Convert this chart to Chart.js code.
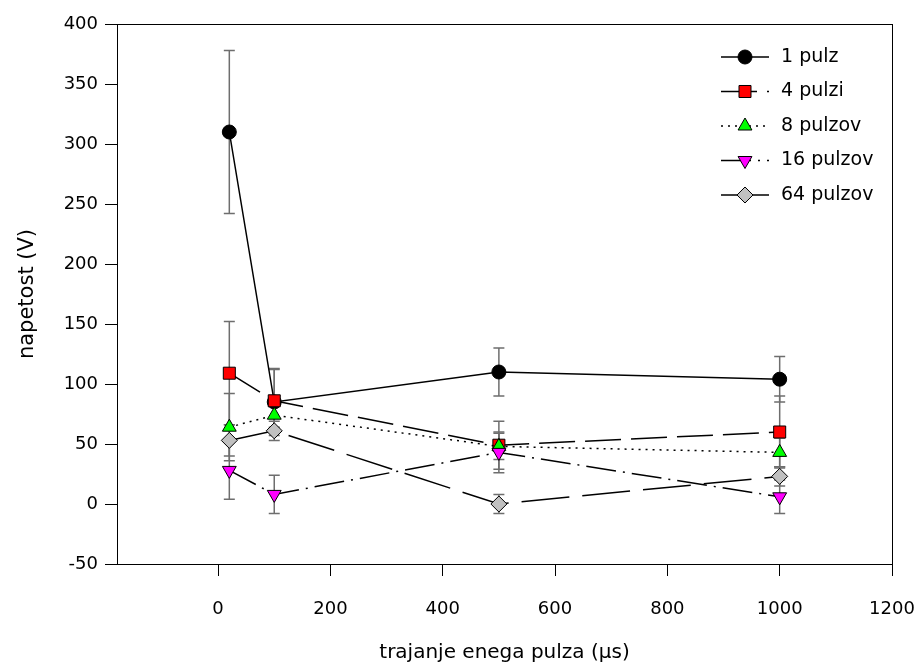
<!DOCTYPE html>
<html lang="sl">
<head>
    <meta charset="UTF-8" />
    <title>Napetost glede na trajanje pulza</title>
    <script src="https://cdn.jsdelivr.net/npm/chart.js"></script>
    <style>
        body {
            margin: 0;
            background: #fff;
        }

        canvas {
            display: block;
        }
    </style>
</head>

<body>
    <canvas id="chart" width="918" height="665"></canvas>

    <script>
        // trajanje enega pulza (us)
        const durations = [20, 100, 500, 1000];

        const seriesNames = ["1 pulz", "4 pulzi", "8 pulzov", "16 pulzov", "64 pulzov"];

        // napetost (V) in standardni odklon
        const pulz1 = [310, 85, 110, 104];
        const pulz1Err = [68, 28, 20, 19];
        const pulzi4 = [109, 86, 49, 60];
        const pulzi4Err = [43, 26, 20, 30];
        const pulzov8 = [64, 74, 48, 43];
        const pulzov8Err = [28, 10, 11, 12];
        const pulzov16 = [28, 8, 43, 6];
        const pulzov16Err = [24, 16, 17, 14];
        const pulzov64 = [53, 61, 0, 23];
        const pulzov64Err = [13, 8, 8, 8];

        const xTicks = [0, 200, 400, 600, 800, 1000, 1200];

        const values = [pulz1, pulzi4, pulzov8, pulzov16, pulzov64];
        const errors = [pulz1Err, pulzi4Err, pulzov8Err, pulzov16Err, pulzov64Err];

        const styles = [
            { fill: "#000000", point: "circle", radius: 7, rotation: 0, dash: [] },
            { fill: "#ff0000", point: "rect", radius: 8.5, rotation: 0, dash: [36, 10] },
            { fill: "#00ff00", point: "triangle", radius: 8, rotation: 0, dash: [2, 5] },
            { fill: "#ff00ff", point: "triangle", radius: 8, rotation: 180, dash: [30, 7, 2, 7] },
            { fill: "#c0c0c0", point: "rectRot", radius: 8, rotation: 0, dash: [48, 13] }
        ];

        const FONT = "'DejaVu Sans', sans-serif";

        const datasets = values.map((serie, i) => ({
            label: seriesNames[i],
            data: serie.map((v, j) => ({ x: durations[j], y: v })),
            showLine: true,
            tension: 0,
            borderColor: "#000",
            borderWidth: 1.5,
            borderDash: styles[i].dash,
            pointStyle: styles[i].point,
            pointRadius: styles[i].radius,
            pointRotation: styles[i].rotation,
            pointBackgroundColor: styles[i].fill,
            pointBorderColor: "#000",
            pointBorderWidth: 1,
            order: values.length - i
        }));

        // error bars under the markers, plus the frame round the plot
        const errorBars = {
            id: "errorBars",
            beforeDatasetsDraw(chart) {
                const { ctx, chartArea, scales } = chart;
                ctx.save();
                ctx.strokeStyle = "#000";
                ctx.lineWidth = 1;
                ctx.strokeRect(chartArea.left + 0.5, chartArea.top + 0.5,
                    chartArea.right - chartArea.left, chartArea.bottom - chartArea.top);

                ctx.strokeStyle = "#6e6e6e";
                ctx.lineWidth = 1.5;
                values.forEach((serie, i) => {
                    serie.forEach((v, j) => {
                        const x = scales.x.getPixelForValue(durations[j]);
                        const yTop = scales.y.getPixelForValue(v + errors[i][j]);
                        const yBot = scales.y.getPixelForValue(v - errors[i][j]);
                        ctx.beginPath();
                        ctx.moveTo(x, yTop);
                        ctx.lineTo(x, yBot);
                        ctx.moveTo(x - 5.5, yTop);
                        ctx.lineTo(x + 5.5, yTop);
                        ctx.moveTo(x - 5.5, yBot);
                        ctx.lineTo(x + 5.5, yBot);
                        ctx.stroke();
                    });
                });
                ctx.restore();
            }
        };

        // legend box in the upper right corner
        const innerLegend = {
            id: "innerLegend",
            afterDatasetsDraw(chart) {
                const { ctx, chartArea } = chart;
                const x0 = chartArea.right - 171;
                const x1 = chartArea.right - 123;
                const xm = chartArea.right - 147;
                const xt = chartArea.right - 111;
                ctx.save();
                seriesNames.forEach((name, i) => {
                    const y = chartArea.top + 33 + i * 34.5;
                    ctx.strokeStyle = "#000";
                    ctx.lineWidth = 1.5;
                    ctx.setLineDash(styles[i].dash);
                    ctx.beginPath();
                    ctx.moveTo(x0, y);
                    ctx.lineTo(x1, y);
                    ctx.stroke();
                    ctx.setLineDash([]);

                    ctx.fillStyle = styles[i].fill;
                    ctx.strokeStyle = "#000";
                    ctx.lineWidth = 1;
                    Chart.helpers.drawPoint(ctx, {
                        pointStyle: styles[i].point,
                        radius: styles[i].radius,
                        rotation: styles[i].rotation,
                        borderWidth: 1
                    }, xm, y);

                    ctx.fillStyle = "#000";
                    ctx.font = "19px " + FONT;
                    ctx.textBaseline = "middle";
                    ctx.textAlign = "left";
                    ctx.fillText(name, xt, y);
                });
                ctx.restore();
            }
        };

        new Chart(document.getElementById("chart"), {
            type: "scatter",
            data: { datasets: datasets },
            options: {
                responsive: false,
                animation: false,
                devicePixelRatio: 1,
                events: [],
                layout: {
                    padding: { left: 0, top: 24, right: 0, bottom: 0 }
                },
                plugins: {
                    legend: { display: false },
                    tooltip: { enabled: false }
                },
                scales: {
                    x: {
                        type: "linear",
                        min: -180,
                        max: 1200,
                        afterBuildTicks: scale => {
                            scale.ticks = xTicks.map(v => ({ value: v }));
                        },
                        afterFit: scale => {
                            scale.height = 101;
                            scale.paddingLeft = 0;
                            scale.paddingRight = 26;
                        },
                        grid: {
                            drawOnChartArea: false,
                            drawTicks: true,
                            tickLength: 12,
                            color: "#000"
                        },
                        border: { display: true, color: "#000", width: 1 },
                        ticks: {
                            color: "#000",
                            padding: 23,
                            maxRotation: 0,
                            callback: v => String(v),
                            font: { family: FONT, size: 18 }
                        },
                        title: {
                            display: true,
                            text: "trajanje enega pulza (μs)",
                            color: "#000",
                            padding: { top: 0, bottom: 0 },
                            font: { family: FONT, size: 20 }
                        }
                    },
                    y: {
                        min: -50,
                        max: 400,
                        afterFit: scale => {
                            scale.width = 117;
                        },
                        grid: {
                            drawOnChartArea: false,
                            drawTicks: true,
                            tickLength: 12,
                            color: "#000"
                        },
                        border: { display: true, color: "#000", width: 1 },
                        ticks: {
                            stepSize: 50,
                            color: "#000",
                            padding: 7,
                            font: { family: FONT, size: 18 }
                        },
                        title: {
                            display: true,
                            text: "napetost (V)",
                            color: "#000",
                            padding: { top: 15, bottom: 0 },
                            font: { family: FONT, size: 21 }
                        }
                    }
                }
            },
            plugins: [errorBars, innerLegend]
        });
    </script>
</body>
</html>
